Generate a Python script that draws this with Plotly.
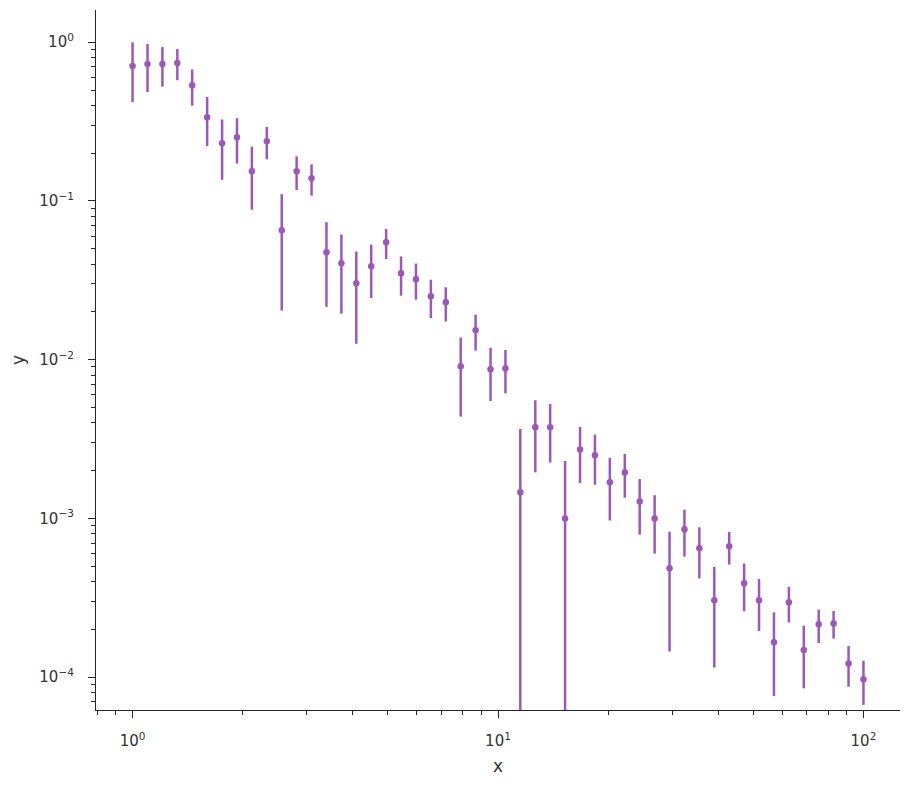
import plotly.graph_objects as go

x_vals = [1.000, 1.099, 1.207, 1.326, 1.456, 1.600, 1.758, 1.931, 2.121, 2.330,
          2.560, 2.812, 3.089, 3.393, 3.728, 4.095, 4.498, 4.942, 5.429, 5.964,
          6.551, 7.197, 7.906, 8.685, 9.541, 10.48, 11.51, 12.65, 13.89, 15.26,
          16.77, 18.42, 20.23, 22.23, 24.42, 26.83, 29.47, 32.37, 35.56, 39.07,
          42.92, 47.15, 51.79, 56.90, 62.51, 68.66, 75.43, 82.86, 91.03, 100.0]

y_vals = [0.709, 0.730, 0.730, 0.741, 0.536, 0.337, 0.231, 0.252, 0.154, 0.238,
          0.0654, 0.154, 0.139, 0.0475, 0.0405, 0.0303, 0.0388, 0.0549, 0.0350, 0.0321,
          0.0251, 0.0230, 0.00908, 0.0153, 0.00869, 0.00883, 0.00146, 0.00375, 0.00375, 0.00100,
          0.00272, 0.00250, 0.00169, 0.00195, 0.00128, 0.00100, 0.000485, 0.000855, 0.000649, 0.000305,
          0.000667, 0.000390, 0.000305, 0.000166, 0.000296, 0.000148, 0.000215, 0.000218, 0.000122, 0.0000969]

y_err = [0.29, 0.245, 0.205, 0.165, 0.138, 0.115, 0.095, 0.080, 0.066, 0.055,
         0.045, 0.037, 0.031, 0.026, 0.021, 0.0177, 0.0143, 0.0118, 0.0097, 0.0082,
         0.0068, 0.0056, 0.0047, 0.0039, 0.0032, 0.0027, 0.0022, 0.0018, 0.0015, 0.0013,
         0.00105, 0.00087, 0.00072, 0.00060, 0.00049, 0.00040, 0.00034, 0.00028, 0.00023, 0.00019,
         0.000155, 0.00013, 0.00011, 0.00009, 0.000075, 0.000063, 0.000051, 0.000043, 0.000035, 0.00003]

x_tickvals = [1, 10, 100]
x_ticktext = ["10<sup>0</sup>", "10<sup>1</sup>", "10<sup>2</sup>"]
y_tickvals = [1, 0.1, 0.01, 0.001, 0.0001]
y_ticktext = ["10<sup>0</sup>", "10<sup>\u22121</sup>", "10<sup>\u22122</sup>",
              "10<sup>\u22123</sup>", "10<sup>\u22124</sup>"]

color = "#9b59b6"
axcol = "#262626"
txtcol = "#333333"

fig = go.Figure()
fig.add_trace(go.Scatter(
    x=x_vals, y=y_vals, mode="markers",
    marker=dict(color=color, size=6.5, line=dict(width=0)),
    error_y=dict(type="data", array=y_err, visible=True, color=color,
                 thickness=2.5, width=0),
    showlegend=False,
))

common = dict(
    showgrid=False, zeroline=False, showline=True, linecolor=axcol, linewidth=1.25,
    ticks="outside", ticklen=7, tickwidth=1.25, tickcolor=axcol,
    tickfont=dict(family="DejaVu Sans", size=15, color=txtcol),
    minor=dict(ticks="outside", ticklen=4, tickwidth=1, tickcolor=axcol,
               showgrid=False, dtick="D1"),
    mirror=False, automargin=False,
)

fig.update_xaxes(type="log", range=[-0.1, 2.1], tickvals=x_tickvals, ticktext=x_ticktext,
                 ticklabelstandoff=10,
                 title=dict(text="x", font=dict(family="DejaVu Sans", size=17, color=txtcol), standoff=10),
                 **common)
fig.update_yaxes(type="log", range=[-4.207, 0.203], tickvals=y_tickvals, ticktext=y_ticktext,
                 ticklabelstandoff=11,
                 title=dict(text="y", font=dict(family="DejaVu Sans", size=17, color=txtcol), standoff=10),
                 **common)

fig.update_layout(
    width=911, height=786,
    margin=dict(l=96, r=11, t=10, b=76),
    paper_bgcolor="white", plot_bgcolor="white",
    font=dict(family="DejaVu Sans", color=txtcol),
)

fig.write_html("out.html", config={"displayModeBar": False},
               post_script="document.body.style.margin='0';")
